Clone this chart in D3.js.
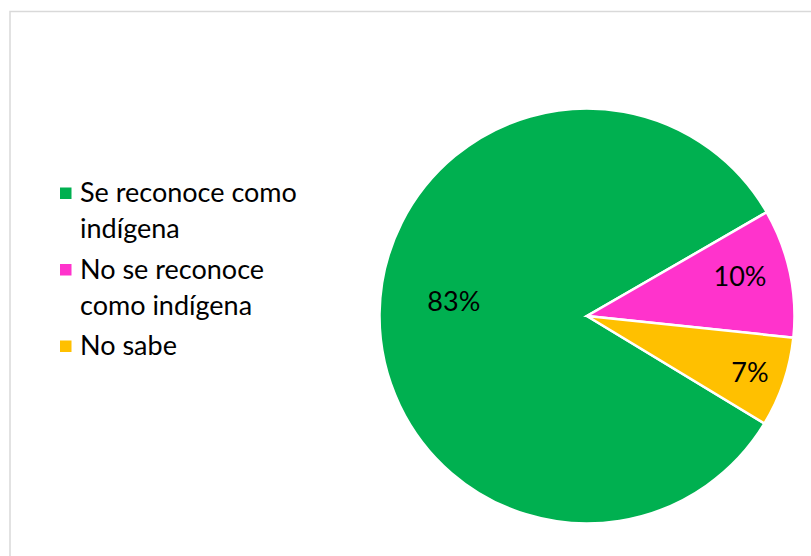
<!DOCTYPE html>
<html>
<head>
<meta charset="utf-8">
<script src="https://cdn.jsdelivr.net/npm/d3@7"></script>
<style>
  html, body { margin: 0; padding: 0; background: #fff; }
  svg { display: block; }
</style>
</head>
<body>
<svg id="chart" width="811" height="556"></svg>
<script>
// Identification as indigenous: share of respondents
const categories = ["Se reconoce como indígena", "No se reconoce como indígena", "No sabe"];
const legendLines = [["Se reconoce como", "indígena"], ["No se reconoce", "como indígena"], ["No sabe"]];
const values = [83, 10, 7];
const percentLabels = ["83%", "10%", "7%"];
const colors = ["#00B050", "#FF33CC", "#FFC000"];
// label placement: fraction of the radius and angular nudge (degrees) from the slice middle
const labelRadiusFactor = [0.646, 0.761, 0.831];
const labelAngleShift = [5.8, -2.3, 0.5];

const W = 811, H = 556;
const svg = d3.select("#chart");
const FONT = "Lato, 'Open Sans', 'Liberation Sans', sans-serif";
const FS = 27;

// chart-area frame
svg.append("rect")
  .attr("x", 10).attr("y", 11.5)
  .attr("width", W + 20).attr("height", H + 20)
  .attr("fill", "#fff")
  .attr("stroke", "#D9D9D9").attr("stroke-width", 1.5);

// pie
const cx = 587, cy = 316, R = 207.5;
const deg = Math.PI / 180;
const total = d3.sum(values);
const pinkStart = 60 * deg;
const start = pinkStart - (values[0] / total) * 2 * Math.PI;

const pie = d3.pie().sort(null).value(d => d)
  .startAngle(start).endAngle(start + 2 * Math.PI);
const arcs = pie(values);
const arc = d3.arc().innerRadius(0).outerRadius(R);

const g = svg.append("g").attr("transform", `translate(${cx},${cy})`);
g.selectAll("path.slice")
  .data(arcs)
  .join("path")
  .attr("class", "slice")
  .attr("d", arc)
  .attr("fill", (d, i) => colors[i])
  .attr("stroke", "#fff")
  .attr("stroke-width", 2.5)
  .attr("stroke-linejoin", "miter");

g.selectAll("text.pct")
  .data(arcs)
  .join("text")
  .attr("class", "pct")
  .attr("transform", (d, i) => {
    const r = R * labelRadiusFactor[i];
    const a = (d.startAngle + d.endAngle) / 2 + labelAngleShift[i] * deg;
    return `translate(${Math.sin(a) * r},${-Math.cos(a) * r})`;
  })
  .attr("text-anchor", "middle")
  .attr("dy", "0.35em")
  .attr("font-family", FONT)
  .attr("font-size", FS)
  .attr("fill", "#000")
  .text((d, i) => percentLabels[i]);

// legend
const legend = svg.append("g").attr("transform", "translate(60,0)");
const itemTop = [193, 269.5, 346];
const lineH = 36;
categories.forEach((c, i) => {
  const item = legend.append("g");
  item.append("rect")
    .attr("x", 0).attr("y", itemTop[i] - 5.5)
    .attr("width", 11.5).attr("height", 11.5)
    .attr("fill", colors[i]);
  legendLines[i].forEach((ln, j) => {
    item.append("text")
      .attr("x", 20).attr("y", itemTop[i] + j * lineH)
      .attr("dy", "0.35em")
      .attr("font-family", FONT)
      .attr("font-size", FS)
      .attr("fill", "#000")
      .text(ln);
  });
});
</script>
</body>
</html>
